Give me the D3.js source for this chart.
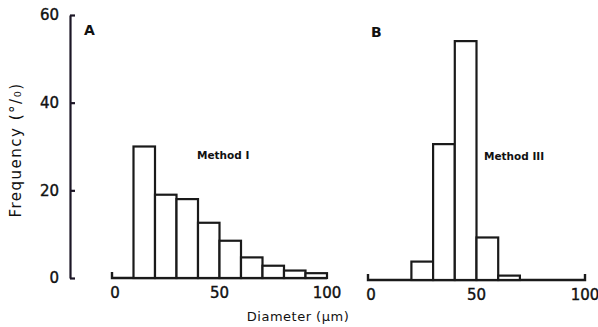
<!DOCTYPE html>
<html>
<head>
<meta charset="utf-8">
<script src="https://cdn.jsdelivr.net/npm/d3@7"></script>
<style>
	body { margin: 0; background: #fff; }
	svg { display: block; }
	text { font-family: "DejaVu Sans", sans-serif; fill: #111; }
	.heavy { stroke: #111; stroke-width: 0.4px; }
</style>
</head>
<body>
<div id="chart"></div>
<script>
// bin lower edges (um) and frequencies (%)
const binStartsA = [10, 20, 30, 40, 50, 60, 70, 80, 90];
const freqA = [30, 19, 18, 12.6, 8.5, 4.7, 2.8, 1.7, 1.1];
const binStartsB = [20, 30, 40, 50, 60];
const freqB = [4.2, 31, 54.5, 9.7, 1];
const binWidth = 10;
const yTicks = [0, 20, 40, 60];
const xTicks = [0, 50, 100];

const width = 598, height = 327;
const svg = d3.select("#chart").append("svg")
	.attr("width", width)
	.attr("height", height);

const ink = "#1a1a1a";
const axisInk = "#1c1626";

// panel B sits a couple px lower in the scan
const yA = d3.scaleLinear().domain([0, 60]).range([278, 15]);
const yB = d3.scaleLinear().domain([0, 60]).range([280, 17]);
const xA = d3.scaleLinear().domain([0, 100]).range([112, 327]);
const xB = d3.scaleLinear().domain([0, 100]).range([368, 585]);

// Y axis, ticks pointing right
const axisX = 70;
const yAxis = d3.axisLeft(yA).tickValues(yTicks).tickSizeInner(-5).tickSizeOuter(0).tickPadding(11);
const yg = svg.append("g")
	.attr("class", "y-axis")
	.attr("transform", "translate(" + axisX + ",0)")
	.call(yAxis);
yg.select(".domain").style("stroke", axisInk).style("stroke-width", "2.2px");
yg.selectAll(".tick line").style("stroke", axisInk).style("stroke-width", "2.2px");
yg.selectAll(".tick text")
	.attr("font-size", 15)
	.attr("font-family", "DejaVu Sans")
	.attr("fill", ink)
	.classed("heavy", true);

// axis titles
svg.append("text")
	.attr("transform", "translate(21,150) rotate(-90)")
	.attr("text-anchor", "middle")
	.attr("font-size", 15)
	.attr("letter-spacing", 1.5)
	.text("Frequency (°/₀)");
svg.append("text")
	.attr("x", 298)
	.attr("y", 321)
	.attr("text-anchor", "middle")
	.attr("font-size", 13)
	.attr("letter-spacing", 0.5)
	.text("Diameter (\u00b5m)");

function drawPanel(x, y, starts, values, letter, letterX, label, labelX, labelY, rightHook) {
	const g = svg.append("g");
	// baseline with upturned hooks
	g.append("path")
		.attr("d", "M" + x(0) + "," + (y(0) - 6) + "L" + x(0) + "," + y(0) + "L" + x(100) + "," + y(0)
			+ (rightHook ? "L" + x(100) + "," + (y(0) - 6) : ""))
		.attr("fill", "none")
		.attr("stroke", ink)
		.attr("stroke-width", 2.4);
	g.selectAll("rect")
		.data(starts)
		.enter()
		.append("rect")
		.attr("x", d => x(d))
		.attr("y", (d, i) => y(values[i]))
		.attr("width", x(binWidth) - x(0))
		.attr("height", (d, i) => y(0) - y(values[i]))
		.attr("fill", "#fff")
		.attr("stroke", ink)
		.attr("stroke-width", 2.2);
	g.selectAll(".xlab")
		.data(xTicks)
		.enter()
		.append("text")
		.classed("heavy", true)
		.attr("x", d => x(d) + (d === 0 ? 3 : 0))
		.attr("y", y(0) + 20)
		.attr("text-anchor", "middle")
		.attr("font-size", 15)
		.text(d => d);
	g.append("text")
		.attr("x", letterX)
		.attr("y", y(60) + 20)
		.attr("font-size", 14)
		.attr("font-weight", "bold")
		.text(letter);
	g.append("text")
		.attr("x", labelX)
		.attr("y", labelY)
		.attr("font-size", 10.5)
		.attr("font-weight", "bold")
		.text(label);
}

drawPanel(xA, yA, binStartsA, freqA, "A", 84, "Method I", 197, 159, false);
drawPanel(xB, yB, binStartsB, freqB, "B", 371, "Method III", 484, 160, true);
</script>
</body>
</html>
